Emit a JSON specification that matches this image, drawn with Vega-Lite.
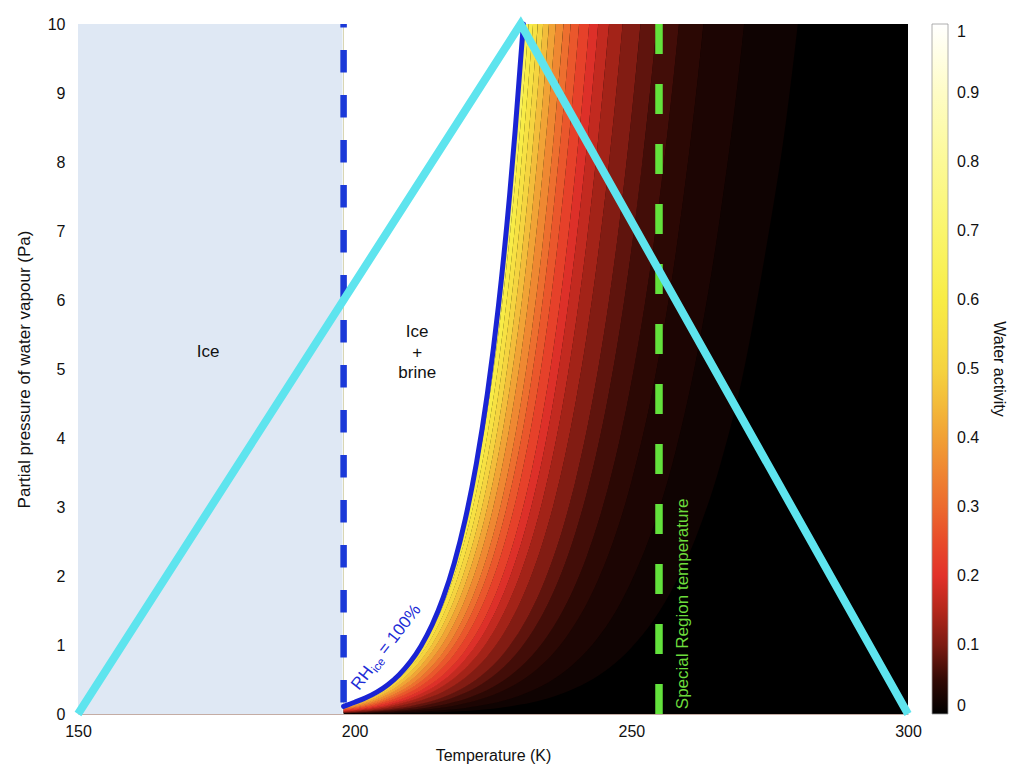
{
  "$schema": "https://vega.github.io/schema/vega-lite/v6.json",
  "width": 830,
  "height": 690,
  "autosize": {"type": "none"},
  "padding": {"left": 78, "top": 24, "right": 116, "bottom": 61},
  "background": "white",
  "config": {
    "view": {"stroke": null},
    "font": "Liberation Sans",
    "axis": {"labelFont": "Liberation Sans", "titleFont": "Liberation Sans", "labelColor": "#111", "titleColor": "#111", "titleFontWeight": "normal"},
    "legend": {"labelFont": "Liberation Sans", "titleFont": "Liberation Sans", "labelColor": "#111", "titleColor": "#111", "titleFontWeight": "normal"}
  },
  "datasets": {
    "curve": [
      {"t": 198, "p": 0.11}, {"t": 200, "p": 0.17}, {"t": 202, "p": 0.235}, {"t": 204, "p": 0.317},
      {"t": 206, "p": 0.425}, {"t": 208, "p": 0.566}, {"t": 210, "p": 0.749}, {"t": 212, "p": 0.987},
      {"t": 214, "p": 1.293}, {"t": 216, "p": 1.686}, {"t": 218, "p": 2.187}, {"t": 220, "p": 2.826},
      {"t": 222, "p": 3.632}, {"t": 224, "p": 4.649}, {"t": 226, "p": 5.923}, {"t": 228, "p": 7.515},
      {"t": 229, "p": 8.45}, {"t": 230, "p": 9.49}, {"t": 230.5, "p": 10}
    ],
    "bands": [
      {"c":0.015,"t":206,"l":0.007,"h":0.015},{"c":0.015,"t":208,"l":0.01,"h":0.019},{"c":0.015,"t":210,"l":0.013,"h":0.025},{"c":0.015,"t":212,"l":0.016,"h":0.033},{"c":0.015,"t":214,"l":0.021,"h":0.042},{"c":0.015,"t":216,"l":0.027,"h":0.054},{"c":0.015,"t":218,"l":0.035,"h":0.069},{"c":0.015,"t":220,"l":0.044,"h":0.088},{"c":0.015,"t":222,"l":0.056,"h":0.111},{"c":0.015,"t":224,"l":0.07,"h":0.14},{"c":0.015,"t":226,"l":0.088,"h":0.175},{"c":0.015,"t":228,"l":0.109,"h":0.219},{"c":0.015,"t":230,"l":0.136,"h":0.272},{"c":0.015,"t":232,"l":0.168,"h":0.336},{"c":0.015,"t":234,"l":0.207,"h":0.414},{"c":0.015,"t":236,"l":0.254,"h":0.508},{"c":0.015,"t":238,"l":0.311,"h":0.621},{"c":0.015,"t":240,"l":0.379,"h":0.757},{"c":0.015,"t":242,"l":0.459,"h":0.918},{"c":0.015,"t":244,"l":0.555,"h":1.11},{"c":0.015,"t":246,"l":0.668,"h":1.335},{"c":0.015,"t":248,"l":0.802,"h":1.603},{"c":0.015,"t":250,"l":0.96,"h":1.919},{"c":0.015,"t":254,"l":1.358,"h":2.716},{"c":0.015,"t":258,"l":1.902,"h":3.804},{"c":0.015,"t":262,"l":2.629,"h":5.258},{"c":0.015,"t":266,"l":3.592,"h":7.184},{"c":0.015,"t":270,"l":4.854,"h":9.708},{"c":0.015,"t":274,"l":6.58,"h":13.2},{"c":0.015,"t":278,"l":8.62,"h":17.2},{"c":0.015,"t":282,"l":11.4,"h":22.8},
      {"c":0.027,"t":202,"l":0.008,"h":0.015},{"c":0.027,"t":204,"l":0.011,"h":0.019},{"c":0.027,"t":206,"l":0.015,"h":0.026},{"c":0.027,"t":208,"l":0.019,"h":0.034},{"c":0.027,"t":210,"l":0.025,"h":0.044},{"c":0.027,"t":212,"l":0.033,"h":0.057},{"c":0.027,"t":214,"l":0.042,"h":0.074},{"c":0.027,"t":216,"l":0.054,"h":0.095},{"c":0.027,"t":218,"l":0.069,"h":0.121},{"c":0.027,"t":220,"l":0.088,"h":0.154},{"c":0.027,"t":222,"l":0.111,"h":0.194},{"c":0.027,"t":224,"l":0.14,"h":0.245},{"c":0.027,"t":226,"l":0.175,"h":0.307},{"c":0.027,"t":228,"l":0.219,"h":0.383},{"c":0.027,"t":230,"l":0.272,"h":0.476},{"c":0.027,"t":232,"l":0.336,"h":0.588},{"c":0.027,"t":234,"l":0.414,"h":0.725},{"c":0.027,"t":236,"l":0.508,"h":0.889},{"c":0.027,"t":238,"l":0.621,"h":1.087},{"c":0.027,"t":240,"l":0.757,"h":1.325},{"c":0.027,"t":242,"l":0.918,"h":1.606},{"c":0.027,"t":244,"l":1.11,"h":1.942},{"c":0.027,"t":246,"l":1.335,"h":2.337},{"c":0.027,"t":248,"l":1.603,"h":2.806},{"c":0.027,"t":250,"l":1.919,"h":3.359},{"c":0.027,"t":254,"l":2.716,"h":4.753},{"c":0.027,"t":258,"l":3.804,"h":6.657},{"c":0.027,"t":262,"l":5.258,"h":9.202},{"c":0.027,"t":266,"l":7.184,"h":12.57},{"c":0.027,"t":270,"l":9.708,"h":17},{"c":0.027,"t":274,"l":13.2,"h":23},
      {"c":0.042,"t":200,"l":0.011,"h":0.016},{"c":0.042,"t":202,"l":0.015,"h":0.021},{"c":0.042,"t":204,"l":0.019,"h":0.028},{"c":0.042,"t":206,"l":0.026,"h":0.037},{"c":0.042,"t":208,"l":0.034,"h":0.048},{"c":0.042,"t":210,"l":0.044,"h":0.063},{"c":0.042,"t":212,"l":0.057,"h":0.081},{"c":0.042,"t":214,"l":0.074,"h":0.105},{"c":0.042,"t":216,"l":0.095,"h":0.135},{"c":0.042,"t":218,"l":0.121,"h":0.173},{"c":0.042,"t":220,"l":0.154,"h":0.219},{"c":0.042,"t":222,"l":0.194,"h":0.278},{"c":0.042,"t":224,"l":0.245,"h":0.349},{"c":0.042,"t":226,"l":0.307,"h":0.438},{"c":0.042,"t":228,"l":0.383,"h":0.547},{"c":0.042,"t":230,"l":0.476,"h":0.68},{"c":0.042,"t":232,"l":0.588,"h":0.841},{"c":0.042,"t":234,"l":0.725,"h":1.035},{"c":0.042,"t":236,"l":0.889,"h":1.27},{"c":0.042,"t":238,"l":1.087,"h":1.553},{"c":0.042,"t":240,"l":1.325,"h":1.893},{"c":0.042,"t":242,"l":1.606,"h":2.294},{"c":0.042,"t":244,"l":1.942,"h":2.774},{"c":0.042,"t":246,"l":2.337,"h":3.339},{"c":0.042,"t":248,"l":2.806,"h":4.008},{"c":0.042,"t":250,"l":3.359,"h":4.799},{"c":0.042,"t":254,"l":4.753,"h":6.79},{"c":0.042,"t":258,"l":6.657,"h":9.51},{"c":0.042,"t":262,"l":9.202,"h":13.1},{"c":0.042,"t":266,"l":12.57,"h":18},
      {"c":0.06,"t":198,"l":0.012,"h":0.016},{"c":0.06,"t":200,"l":0.016,"h":0.022},{"c":0.06,"t":202,"l":0.021,"h":0.029},{"c":0.06,"t":204,"l":0.028,"h":0.039},{"c":0.06,"t":206,"l":0.037,"h":0.051},{"c":0.06,"t":208,"l":0.048,"h":0.067},{"c":0.06,"t":210,"l":0.063,"h":0.088},{"c":0.06,"t":212,"l":0.081,"h":0.114},{"c":0.06,"t":214,"l":0.105,"h":0.147},{"c":0.06,"t":216,"l":0.135,"h":0.189},{"c":0.06,"t":218,"l":0.173,"h":0.242},{"c":0.06,"t":220,"l":0.219,"h":0.307},{"c":0.06,"t":222,"l":0.278,"h":0.389},{"c":0.06,"t":224,"l":0.349,"h":0.489},{"c":0.06,"t":226,"l":0.438,"h":0.613},{"c":0.06,"t":228,"l":0.547,"h":0.766},{"c":0.06,"t":230,"l":0.68,"h":0.951},{"c":0.06,"t":232,"l":0.841,"h":1.177},{"c":0.06,"t":234,"l":1.035,"h":1.449},{"c":0.06,"t":236,"l":1.27,"h":1.778},{"c":0.06,"t":238,"l":1.553,"h":2.174},{"c":0.06,"t":240,"l":1.893,"h":2.65},{"c":0.06,"t":242,"l":2.294,"h":3.212},{"c":0.06,"t":244,"l":2.774,"h":3.884},{"c":0.06,"t":246,"l":3.339,"h":4.674},{"c":0.06,"t":248,"l":4.008,"h":5.611},{"c":0.06,"t":250,"l":4.799,"h":6.718},{"c":0.06,"t":254,"l":6.79,"h":9.506},{"c":0.06,"t":258,"l":9.51,"h":13.3},{"c":0.06,"t":262,"l":13.1,"h":18.4},
      {"c":0.08,"t":198,"l":0.016,"h":0.021},{"c":0.08,"t":200,"l":0.022,"h":0.028},{"c":0.08,"t":202,"l":0.029,"h":0.038},{"c":0.08,"t":204,"l":0.039,"h":0.05},{"c":0.08,"t":206,"l":0.051,"h":0.066},{"c":0.08,"t":208,"l":0.067,"h":0.087},{"c":0.08,"t":210,"l":0.088,"h":0.113},{"c":0.08,"t":212,"l":0.114,"h":0.147},{"c":0.08,"t":214,"l":0.147,"h":0.189},{"c":0.08,"t":216,"l":0.189,"h":0.243},{"c":0.08,"t":218,"l":0.242,"h":0.311},{"c":0.08,"t":220,"l":0.307,"h":0.395},{"c":0.08,"t":222,"l":0.389,"h":0.5},{"c":0.08,"t":224,"l":0.489,"h":0.629},{"c":0.08,"t":226,"l":0.613,"h":0.788},{"c":0.08,"t":228,"l":0.766,"h":0.985},{"c":0.08,"t":230,"l":0.951,"h":1.223},{"c":0.08,"t":232,"l":1.177,"h":1.513},{"c":0.08,"t":234,"l":1.449,"h":1.863},{"c":0.08,"t":236,"l":1.778,"h":2.286},{"c":0.08,"t":238,"l":2.174,"h":2.795},{"c":0.08,"t":240,"l":2.65,"h":3.407},{"c":0.08,"t":242,"l":3.212,"h":4.129},{"c":0.08,"t":244,"l":3.884,"h":4.993},{"c":0.08,"t":246,"l":4.674,"h":6.009},{"c":0.08,"t":248,"l":5.611,"h":7.214},{"c":0.08,"t":250,"l":6.718,"h":8.637},{"c":0.08,"t":252,"l":8.001,"h":10.29},{"c":0.08,"t":254,"l":9.506,"h":12.2},{"c":0.08,"t":256,"l":11.26,"h":14.5},
      {"c":0.105,"t":198,"l":0.021,"h":0.028},{"c":0.105,"t":200,"l":0.028,"h":0.038},{"c":0.105,"t":202,"l":0.038,"h":0.05},{"c":0.105,"t":204,"l":0.05,"h":0.067},{"c":0.105,"t":206,"l":0.066,"h":0.088},{"c":0.105,"t":208,"l":0.087,"h":0.116},{"c":0.105,"t":210,"l":0.113,"h":0.151},{"c":0.105,"t":212,"l":0.147,"h":0.195},{"c":0.105,"t":214,"l":0.189,"h":0.252},{"c":0.105,"t":216,"l":0.243,"h":0.324},{"c":0.105,"t":218,"l":0.311,"h":0.414},{"c":0.105,"t":220,"l":0.395,"h":0.527},{"c":0.105,"t":222,"l":0.5,"h":0.666},{"c":0.105,"t":224,"l":0.629,"h":0.838},{"c":0.105,"t":226,"l":0.788,"h":1.051},{"c":0.105,"t":228,"l":0.985,"h":1.313},{"c":0.105,"t":230,"l":1.223,"h":1.631},{"c":0.105,"t":232,"l":1.513,"h":2.017},{"c":0.105,"t":234,"l":1.863,"h":2.484},{"c":0.105,"t":236,"l":2.286,"h":3.048},{"c":0.105,"t":238,"l":2.795,"h":3.727},{"c":0.105,"t":240,"l":3.407,"h":4.543},{"c":0.105,"t":242,"l":4.129,"h":5.506},{"c":0.105,"t":244,"l":4.993,"h":6.658},{"c":0.105,"t":246,"l":6.009,"h":8.012},{"c":0.105,"t":248,"l":7.214,"h":9.619},{"c":0.105,"t":250,"l":8.637,"h":11.52},{"c":0.105,"t":252,"l":10.29,"h":13.7},
      {"c":0.135,"t":198,"l":0.028,"h":0.035},{"c":0.135,"t":200,"l":0.038,"h":0.047},{"c":0.135,"t":202,"l":0.05,"h":0.063},{"c":0.135,"t":204,"l":0.067,"h":0.083},{"c":0.135,"t":206,"l":0.088,"h":0.11},{"c":0.135,"t":208,"l":0.116,"h":0.144},{"c":0.135,"t":210,"l":0.151,"h":0.188},{"c":0.135,"t":212,"l":0.195,"h":0.244},{"c":0.135,"t":214,"l":0.252,"h":0.315},{"c":0.135,"t":216,"l":0.324,"h":0.405},{"c":0.135,"t":218,"l":0.414,"h":0.518},{"c":0.135,"t":220,"l":0.527,"h":0.658},{"c":0.135,"t":222,"l":0.666,"h":0.833},{"c":0.135,"t":224,"l":0.838,"h":1.048},{"c":0.135,"t":226,"l":1.051,"h":1.314},{"c":0.135,"t":228,"l":1.313,"h":1.641},{"c":0.135,"t":230,"l":1.631,"h":2.039},{"c":0.135,"t":232,"l":2.017,"h":2.522},{"c":0.135,"t":234,"l":2.484,"h":3.105},{"c":0.135,"t":236,"l":3.048,"h":3.81},{"c":0.135,"t":238,"l":3.727,"h":4.659},{"c":0.135,"t":240,"l":4.543,"h":5.679},{"c":0.135,"t":242,"l":5.506,"h":6.882},{"c":0.135,"t":244,"l":6.658,"h":8.322},{"c":0.135,"t":246,"l":8.012,"h":10.02},{"c":0.135,"t":248,"l":9.619,"h":12},{"c":0.135,"t":250,"l":11.52,"h":14.4},
      {"c":0.165,"t":198,"l":0.035,"h":0.042},{"c":0.165,"t":200,"l":0.047,"h":0.056},{"c":0.165,"t":202,"l":0.063,"h":0.075},{"c":0.165,"t":204,"l":0.083,"h":0.1},{"c":0.165,"t":206,"l":0.11,"h":0.132},{"c":0.165,"t":208,"l":0.144,"h":0.173},{"c":0.165,"t":210,"l":0.188,"h":0.226},{"c":0.165,"t":212,"l":0.244,"h":0.293},{"c":0.165,"t":214,"l":0.315,"h":0.378},{"c":0.165,"t":216,"l":0.405,"h":0.486},{"c":0.165,"t":218,"l":0.518,"h":0.621},{"c":0.165,"t":220,"l":0.658,"h":0.79},{"c":0.165,"t":222,"l":0.833,"h":0.999},{"c":0.165,"t":224,"l":1.048,"h":1.258},{"c":0.165,"t":226,"l":1.314,"h":1.576},{"c":0.165,"t":228,"l":1.641,"h":1.969},{"c":0.165,"t":230,"l":2.039,"h":2.446},{"c":0.165,"t":232,"l":2.522,"h":3.026},{"c":0.165,"t":234,"l":3.105,"h":3.726},{"c":0.165,"t":236,"l":3.81,"h":4.572},{"c":0.165,"t":238,"l":4.659,"h":5.591},{"c":0.165,"t":240,"l":5.679,"h":6.815},{"c":0.165,"t":242,"l":6.882,"h":8.258},{"c":0.165,"t":244,"l":8.322,"h":9.986},{"c":0.165,"t":246,"l":10.02,"h":12.02},
      {"c":0.195,"t":198,"l":0.042,"h":0.049},{"c":0.195,"t":200,"l":0.056,"h":0.066},{"c":0.195,"t":202,"l":0.075,"h":0.088},{"c":0.195,"t":204,"l":0.1,"h":0.117},{"c":0.195,"t":206,"l":0.132,"h":0.154},{"c":0.195,"t":208,"l":0.173,"h":0.202},{"c":0.195,"t":210,"l":0.226,"h":0.264},{"c":0.195,"t":212,"l":0.293,"h":0.342},{"c":0.195,"t":214,"l":0.378,"h":0.441},{"c":0.195,"t":216,"l":0.486,"h":0.567},{"c":0.195,"t":218,"l":0.621,"h":0.725},{"c":0.195,"t":220,"l":0.79,"h":0.922},{"c":0.195,"t":222,"l":0.999,"h":1.166},{"c":0.195,"t":224,"l":1.258,"h":1.467},{"c":0.195,"t":226,"l":1.576,"h":1.839},{"c":0.195,"t":228,"l":1.969,"h":2.297},{"c":0.195,"t":230,"l":2.446,"h":2.854},{"c":0.195,"t":232,"l":3.026,"h":3.53},{"c":0.195,"t":234,"l":3.726,"h":4.347},{"c":0.195,"t":236,"l":4.572,"h":5.334},{"c":0.195,"t":238,"l":5.591,"h":6.523},{"c":0.195,"t":240,"l":6.815,"h":7.951},{"c":0.195,"t":242,"l":8.258,"h":9.635},{"c":0.195,"t":244,"l":9.986,"h":11.65},{"c":0.195,"t":246,"l":12.02,"h":14},
      {"c":0.23,"t":198,"l":0.049,"h":0.058},{"c":0.23,"t":200,"l":0.066,"h":0.078},{"c":0.23,"t":202,"l":0.088,"h":0.105},{"c":0.23,"t":204,"l":0.117,"h":0.139},{"c":0.23,"t":206,"l":0.154,"h":0.183},{"c":0.23,"t":208,"l":0.202,"h":0.241},{"c":0.23,"t":210,"l":0.264,"h":0.314},{"c":0.23,"t":212,"l":0.342,"h":0.407},{"c":0.23,"t":214,"l":0.441,"h":0.526},{"c":0.23,"t":216,"l":0.567,"h":0.676},{"c":0.23,"t":218,"l":0.725,"h":0.863},{"c":0.23,"t":220,"l":0.922,"h":1.097},{"c":0.23,"t":222,"l":1.166,"h":1.388},{"c":0.23,"t":224,"l":1.467,"h":1.747},{"c":0.23,"t":226,"l":1.839,"h":2.19},{"c":0.23,"t":228,"l":2.297,"h":2.735},{"c":0.23,"t":230,"l":2.854,"h":3.398},{"c":0.23,"t":232,"l":3.53,"h":4.203},{"c":0.23,"t":234,"l":4.347,"h":5.175},{"c":0.23,"t":236,"l":5.334,"h":6.35},{"c":0.23,"t":238,"l":6.523,"h":7.765},{"c":0.23,"t":240,"l":7.951,"h":9.465},{"c":0.23,"t":242,"l":9.635,"h":11.47},{"c":0.23,"t":244,"l":11.65,"h":13.9},
      {"c":0.27,"t":198,"l":0.058,"h":0.068},{"c":0.27,"t":200,"l":0.078,"h":0.091},{"c":0.27,"t":202,"l":0.105,"h":0.121},{"c":0.27,"t":204,"l":0.139,"h":0.161},{"c":0.27,"t":206,"l":0.183,"h":0.213},{"c":0.27,"t":208,"l":0.241,"h":0.279},{"c":0.27,"t":210,"l":0.314,"h":0.364},{"c":0.27,"t":212,"l":0.407,"h":0.472},{"c":0.27,"t":214,"l":0.526,"h":0.61},{"c":0.27,"t":216,"l":0.676,"h":0.784},{"c":0.27,"t":218,"l":0.863,"h":1.001},{"c":0.27,"t":220,"l":1.097,"h":1.273},{"c":0.27,"t":222,"l":1.388,"h":1.61},{"c":0.27,"t":224,"l":1.747,"h":2.026},{"c":0.27,"t":226,"l":2.19,"h":2.54},{"c":0.27,"t":228,"l":2.735,"h":3.173},{"c":0.27,"t":230,"l":3.398,"h":3.941},{"c":0.27,"t":232,"l":4.203,"h":4.875},{"c":0.27,"t":234,"l":5.175,"h":6.003},{"c":0.27,"t":236,"l":6.35,"h":7.366},{"c":0.27,"t":238,"l":7.765,"h":9.007},{"c":0.27,"t":240,"l":9.465,"h":10.98},{"c":0.27,"t":242,"l":11.47,"h":13.3},
      {"c":0.31,"t":198,"l":0.068,"h":0.077},{"c":0.31,"t":200,"l":0.091,"h":0.103},{"c":0.31,"t":202,"l":0.121,"h":0.138},{"c":0.31,"t":204,"l":0.161,"h":0.183},{"c":0.31,"t":206,"l":0.213,"h":0.242},{"c":0.31,"t":208,"l":0.279,"h":0.318},{"c":0.31,"t":210,"l":0.364,"h":0.414},{"c":0.31,"t":212,"l":0.472,"h":0.538},{"c":0.31,"t":214,"l":0.61,"h":0.694},{"c":0.31,"t":216,"l":0.784,"h":0.892},{"c":0.31,"t":218,"l":1.001,"h":1.139},{"c":0.31,"t":220,"l":1.273,"h":1.448},{"c":0.31,"t":222,"l":1.61,"h":1.832},{"c":0.31,"t":224,"l":2.026,"h":2.306},{"c":0.31,"t":226,"l":2.54,"h":2.89},{"c":0.31,"t":228,"l":3.173,"h":3.61},{"c":0.31,"t":230,"l":3.941,"h":4.485},{"c":0.31,"t":232,"l":4.875,"h":5.547},{"c":0.31,"t":234,"l":6.003,"h":6.831},{"c":0.31,"t":236,"l":7.366,"h":8.382},{"c":0.31,"t":238,"l":9.007,"h":10.25},{"c":0.31,"t":240,"l":10.98,"h":12.5},
      {"c":0.355,"t":198,"l":0.077,"h":0.089},{"c":0.355,"t":200,"l":0.103,"h":0.119},{"c":0.355,"t":202,"l":0.138,"h":0.159},{"c":0.355,"t":204,"l":0.183,"h":0.211},{"c":0.355,"t":206,"l":0.242,"h":0.279},{"c":0.355,"t":208,"l":0.318,"h":0.366},{"c":0.355,"t":210,"l":0.414,"h":0.477},{"c":0.355,"t":212,"l":0.538,"h":0.619},{"c":0.355,"t":214,"l":0.694,"h":0.799},{"c":0.355,"t":216,"l":0.892,"h":1.027},{"c":0.355,"t":218,"l":1.139,"h":1.312},{"c":0.355,"t":220,"l":1.448,"h":1.668},{"c":0.355,"t":222,"l":1.832,"h":2.109},{"c":0.355,"t":224,"l":2.306,"h":2.655},{"c":0.355,"t":226,"l":2.89,"h":3.328},{"c":0.355,"t":228,"l":3.61,"h":4.157},{"c":0.355,"t":230,"l":4.485,"h":5.164},{"c":0.355,"t":232,"l":5.547,"h":6.388},{"c":0.355,"t":234,"l":6.831,"h":7.866},{"c":0.355,"t":236,"l":8.382,"h":9.652},{"c":0.355,"t":238,"l":10.25,"h":11.8},
      {"c":0.405,"t":198,"l":0.089,"h":0.1},{"c":0.405,"t":200,"l":0.119,"h":0.135},{"c":0.405,"t":202,"l":0.159,"h":0.18},{"c":0.405,"t":204,"l":0.211,"h":0.239},{"c":0.405,"t":206,"l":0.279,"h":0.315},{"c":0.405,"t":208,"l":0.366,"h":0.414},{"c":0.405,"t":210,"l":0.477,"h":0.54},{"c":0.405,"t":212,"l":0.619,"h":0.7},{"c":0.405,"t":214,"l":0.799,"h":0.904},{"c":0.405,"t":216,"l":1.027,"h":1.162},{"c":0.405,"t":218,"l":1.312,"h":1.484},{"c":0.405,"t":220,"l":1.668,"h":1.887},{"c":0.405,"t":222,"l":2.109,"h":2.387},{"c":0.405,"t":224,"l":2.655,"h":3.004},{"c":0.405,"t":226,"l":3.328,"h":3.766},{"c":0.405,"t":228,"l":4.157,"h":4.704},{"c":0.405,"t":230,"l":5.164,"h":5.844},{"c":0.405,"t":232,"l":6.388,"h":7.228},{"c":0.405,"t":234,"l":7.866,"h":8.901},{"c":0.405,"t":236,"l":9.652,"h":10.92},{"c":0.405,"t":238,"l":11.8,"h":13.4},
      {"c":0.455,"t":198,"l":0.1,"h":0.112},{"c":0.455,"t":200,"l":0.135,"h":0.15},{"c":0.455,"t":202,"l":0.18,"h":0.201},{"c":0.455,"t":204,"l":0.239,"h":0.266},{"c":0.455,"t":206,"l":0.315,"h":0.352},{"c":0.455,"t":208,"l":0.414,"h":0.462},{"c":0.455,"t":210,"l":0.54,"h":0.603},{"c":0.455,"t":212,"l":0.7,"h":0.782},{"c":0.455,"t":214,"l":0.904,"h":1.009},{"c":0.455,"t":216,"l":1.162,"h":1.297},{"c":0.455,"t":218,"l":1.484,"h":1.657},{"c":0.455,"t":220,"l":1.887,"h":2.107},{"c":0.455,"t":222,"l":2.387,"h":2.664},{"c":0.455,"t":224,"l":3.004,"h":3.354},{"c":0.455,"t":226,"l":3.766,"h":4.204},{"c":0.455,"t":228,"l":4.704,"h":5.251},{"c":0.455,"t":230,"l":5.844,"h":6.523},{"c":0.455,"t":232,"l":7.228,"h":8.069},{"c":0.455,"t":234,"l":8.901,"h":9.936},{"c":0.455,"t":236,"l":10.92,"h":12.19},
      {"c":0.505,"t":198,"l":0.112,"h":0.123},{"c":0.505,"t":200,"l":0.15,"h":0.166},{"c":0.505,"t":202,"l":0.201,"h":0.222},{"c":0.505,"t":204,"l":0.266,"h":0.294},{"c":0.505,"t":206,"l":0.352,"h":0.388},{"c":0.505,"t":208,"l":0.462,"h":0.51},{"c":0.505,"t":210,"l":0.603,"h":0.666},{"c":0.505,"t":212,"l":0.782,"h":0.863},{"c":0.505,"t":214,"l":1.009,"h":1.114},{"c":0.505,"t":216,"l":1.297,"h":1.432},{"c":0.505,"t":218,"l":1.657,"h":1.83},{"c":0.505,"t":220,"l":2.107,"h":2.326},{"c":0.505,"t":222,"l":2.664,"h":2.942},{"c":0.505,"t":224,"l":3.354,"h":3.703},{"c":0.505,"t":226,"l":4.204,"h":4.642},{"c":0.505,"t":228,"l":5.251,"h":5.798},{"c":0.505,"t":230,"l":6.523,"h":7.203},{"c":0.505,"t":232,"l":8.069,"h":8.909},{"c":0.505,"t":234,"l":9.936,"h":10.97},{"c":0.505,"t":236,"l":12.19,"h":13.5},
      {"c":0.555,"t":198,"l":0.123,"h":0.135},{"c":0.555,"t":200,"l":0.166,"h":0.182},{"c":0.555,"t":202,"l":0.222,"h":0.242},{"c":0.555,"t":204,"l":0.294,"h":0.322},{"c":0.555,"t":206,"l":0.388,"h":0.425},{"c":0.555,"t":208,"l":0.51,"h":0.559},{"c":0.555,"t":210,"l":0.666,"h":0.728},{"c":0.555,"t":212,"l":0.863,"h":0.945},{"c":0.555,"t":214,"l":1.114,"h":1.219},{"c":0.555,"t":216,"l":1.432,"h":1.567},{"c":0.555,"t":218,"l":1.83,"h":2.002},{"c":0.555,"t":220,"l":2.326,"h":2.546},{"c":0.555,"t":222,"l":2.942,"h":3.22},{"c":0.555,"t":224,"l":3.703,"h":4.052},{"c":0.555,"t":226,"l":4.642,"h":5.08},{"c":0.555,"t":228,"l":5.798,"h":6.345},{"c":0.555,"t":230,"l":7.203,"h":7.882},{"c":0.555,"t":232,"l":8.909,"h":9.75},{"c":0.555,"t":234,"l":10.97,"h":12.01},
      {"c":0.605,"t":198,"l":0.135,"h":0.147},{"c":0.605,"t":200,"l":0.182,"h":0.197},{"c":0.605,"t":202,"l":0.242,"h":0.263},{"c":0.605,"t":204,"l":0.322,"h":0.35},{"c":0.605,"t":206,"l":0.425,"h":0.462},{"c":0.605,"t":208,"l":0.559,"h":0.607},{"c":0.605,"t":210,"l":0.728,"h":0.791},{"c":0.605,"t":212,"l":0.945,"h":1.026},{"c":0.605,"t":214,"l":1.219,"h":1.324},{"c":0.605,"t":216,"l":1.567,"h":1.702},{"c":0.605,"t":218,"l":2.002,"h":2.175},{"c":0.605,"t":220,"l":2.546,"h":2.765},{"c":0.605,"t":222,"l":3.22,"h":3.497},{"c":0.605,"t":224,"l":4.052,"h":4.402},{"c":0.605,"t":226,"l":5.08,"h":5.518},{"c":0.605,"t":228,"l":6.345,"h":6.892},{"c":0.605,"t":230,"l":7.882,"h":8.562},{"c":0.605,"t":232,"l":9.75,"h":10.59},{"c":0.605,"t":234,"l":12.01,"h":13},
      {"c":0.66,"t":198,"l":0.147,"h":10},{"c":0.66,"t":200,"l":0.197,"h":10},{"c":0.66,"t":202,"l":0.263,"h":10},{"c":0.66,"t":204,"l":0.35,"h":10},{"c":0.66,"t":206,"l":0.462,"h":10},{"c":0.66,"t":208,"l":0.607,"h":10},{"c":0.66,"t":210,"l":0.791,"h":10},{"c":0.66,"t":212,"l":1.026,"h":10},{"c":0.66,"t":214,"l":1.324,"h":10},{"c":0.66,"t":216,"l":1.702,"h":10},{"c":0.66,"t":218,"l":2.175,"h":10},{"c":0.66,"t":220,"l":2.765,"h":10},{"c":0.66,"t":222,"l":3.497,"h":10},{"c":0.66,"t":224,"l":4.402,"h":10},{"c":0.66,"t":226,"l":5.518,"h":10},{"c":0.66,"t":228,"l":6.892,"h":10},{"c":0.66,"t":230,"l":8.562,"h":10},{"c":0.66,"t":232,"l":10.59,"h":10}
    ]
  },
  "layer": [
    {
      "data": {"values": [{}]},
      "mark": {"type": "rect", "color": "#000000"},
      "encoding": {
        "x": {"datum": 198}, "x2": {"datum": 300},
        "y": {"datum": 0}, "y2": {"datum": 10}
      }
    },
    {
      "data": {"name": "bands"},
      "mark": {"type": "area", "clip": true, "interpolate": "monotone", "opacity": 1, "y2Offset": -0.5},
      "encoding": {
        "x": {"field": "t", "type": "quantitative",
          "scale": {"domain": [150, 300], "nice": false, "zero": false},
          "axis": {"values": [150, 200, 250, 300], "format": "d", "title": "Temperature (K)", "labelFlush": false, "ticks": false, "grid": false,
            "domain": true, "domainColor": "#c4aca4", "domainWidth": 1, "labelFontSize": 16, "labelPadding": 9,
            "titleFontSize": 16, "titlePadding": 8}},
        "y": {"field": "l", "type": "quantitative",
          "scale": {"domain": [0, 10], "nice": false, "zero": false},
          "axis": {"values": [0, 1, 2, 3, 4, 5, 6, 7, 8, 9, 10], "format": "d", "title": "Partial pressure of water vapour (Pa)", "labelFlush": false,
            "ticks": false, "grid": false, "domain": false, "labelFontSize": 16, "labelPadding": 13,
            "titleFontSize": 17, "titlePadding": 14}},
        "y2": {"field": "h"},
        "detail": {"field": "c", "type": "nominal"},
        "fill": {"field": "c", "type": "quantitative",
          "scale": {"type": "linear", "interpolate": "rgb", "zero": false,
            "domain": [0, 0.05, 0.1, 0.15, 0.2, 0.25, 0.3, 0.35, 0.4, 0.45, 0.5, 0.6, 0.7, 0.8, 0.9, 1],
            "range": ["#000000", "#330a05", "#7c1b12", "#b4271b", "#e2312a", "#e84b2a", "#ec6a2e", "#ef8532", "#f1a035", "#f3bb3a", "#f5d340", "#f8ec45", "#faf56c", "#fcf997", "#fefcc6", "#ffffff"]},
          "legend": {"type": "gradient", "orient": "none", "legendX": 854, "legendY": 0, "direction": "vertical", "padding": 0,
            "gradientLength": 690, "gradientThickness": 16, "gradientStrokeColor": "#999999", "gradientStrokeWidth": 0.8,
            "values": [0, 0.1, 0.2, 0.3, 0.4, 0.5, 0.6, 0.7, 0.8, 0.9, 1], "format": "~g", "labelOverlap": false,
            "labelFontSize": 16, "labelOffset": 9, "labelAlign": "left", "labelBaseline": "middle",
            "title": "Water activity", "titleOrient": "right", "titleAngle": 90, "titleAnchor": "middle",
            "titleFontSize": 16, "titlePadding": 20, "titleBaseline": "middle",
            "encode": {"labels": {"update": {"baseline": {"value": "middle"}}}}}}
      }
    },
    {
      "data": {"name": "curve"},
      "mark": {"type": "area", "clip": true, "interpolate": "monotone", "color": "#ffffff"},
      "encoding": {
        "x": {"field": "t", "type": "quantitative"},
        "y": {"field": "p", "type": "quantitative"},
        "y2": {"datum": 10}
      }
    },
    {
      "data": {"values": [{}]},
      "mark": {"type": "rect", "color": "#dfe8f4"},
      "encoding": {
        "x": {"datum": 150}, "x2": {"datum": 197.8},
        "y": {"datum": 0}, "y2": {"datum": 10}
      }
    },
    {
      "data": {"name": "curve"},
      "mark": {"type": "line", "interpolate": "monotone", "color": "#1a24d4", "strokeWidth": 5, "strokeCap": "round"},
      "encoding": {
        "x": {"field": "t", "type": "quantitative"},
        "y": {"field": "p", "type": "quantitative"}
      }
    },
    {
      "data": {"values": [{}]},
      "mark": {"type": "rule", "color": "#1b39d8", "strokeWidth": 6.5, "strokeDash": [22.5, 22.5], "strokeDashOffset": 19},
      "encoding": {
        "x": {"datum": 198},
        "y": {"datum": 10}, "y2": {"datum": 0.1}
      }
    },
    {
      "data": {"values": [{}]},
      "mark": {"type": "rule", "color": "#63e23c", "strokeWidth": 7.5, "strokeDash": [30, 30]},
      "encoding": {
        "x": {"datum": 255},
        "y": {"datum": 10}, "y2": {"datum": 0}
      }
    },
    {
      "data": {"values": [{"t": 150, "p": 0}, {"t": 230, "p": 10}, {"t": 300, "p": 0}]},
      "mark": {"type": "line", "color": "#5ee4ee", "strokeWidth": 8, "clip": false},
      "encoding": {
        "x": {"field": "t", "type": "quantitative"},
        "y": {"field": "p", "type": "quantitative"}
      }
    },
    {
      "data": {"values": [
        {"t": 173.5, "p": 5.25, "s": "Ice"},
        {"t": 211.3, "p": 5.54, "s": "Ice"},
        {"t": 211.3, "p": 5.23, "s": "+"},
        {"t": 211.3, "p": 4.94, "s": "brine"}
      ]},
      "mark": {"type": "text", "fontSize": 17, "color": "#111111", "align": "center", "baseline": "middle"},
      "encoding": {
        "x": {"field": "t", "type": "quantitative"},
        "y": {"field": "p", "type": "quantitative"},
        "text": {"field": "s"}
      }
    },
    {
      "data": {"values": [
        {"t": 200.78, "p": 0.333, "s": "RH"},
        {"t": 205.68, "p": 0.843, "s": "= 100%"}
      ]},
      "mark": {"type": "text", "fontSize": 17, "color": "#1c2bd6", "align": "left", "baseline": "alphabetic", "angle": 307.5},
      "encoding": {
        "x": {"field": "t", "type": "quantitative"},
        "y": {"field": "p", "type": "quantitative"},
        "text": {"field": "s"}
      }
    },
    {
      "data": {"values": [{"t": 204.04, "p": 0.59, "s": "ice"}]},
      "mark": {"type": "text", "fontSize": 11.5, "color": "#1c2bd6", "align": "left", "baseline": "alphabetic", "angle": 307.5},
      "encoding": {
        "x": {"field": "t", "type": "quantitative"},
        "y": {"field": "p", "type": "quantitative"},
        "text": {"field": "s"}
      }
    },
    {
      "data": {"values": [{"t": 259.3, "p": 0.07, "s": "Special Region temperature"}]},
      "mark": {"type": "text", "fontSize": 17, "color": "#6ddc3c", "align": "left", "baseline": "middle", "angle": 270},
      "encoding": {
        "x": {"field": "t", "type": "quantitative"},
        "y": {"field": "p", "type": "quantitative"},
        "text": {"field": "s"}
      }
    }
  ]
}
